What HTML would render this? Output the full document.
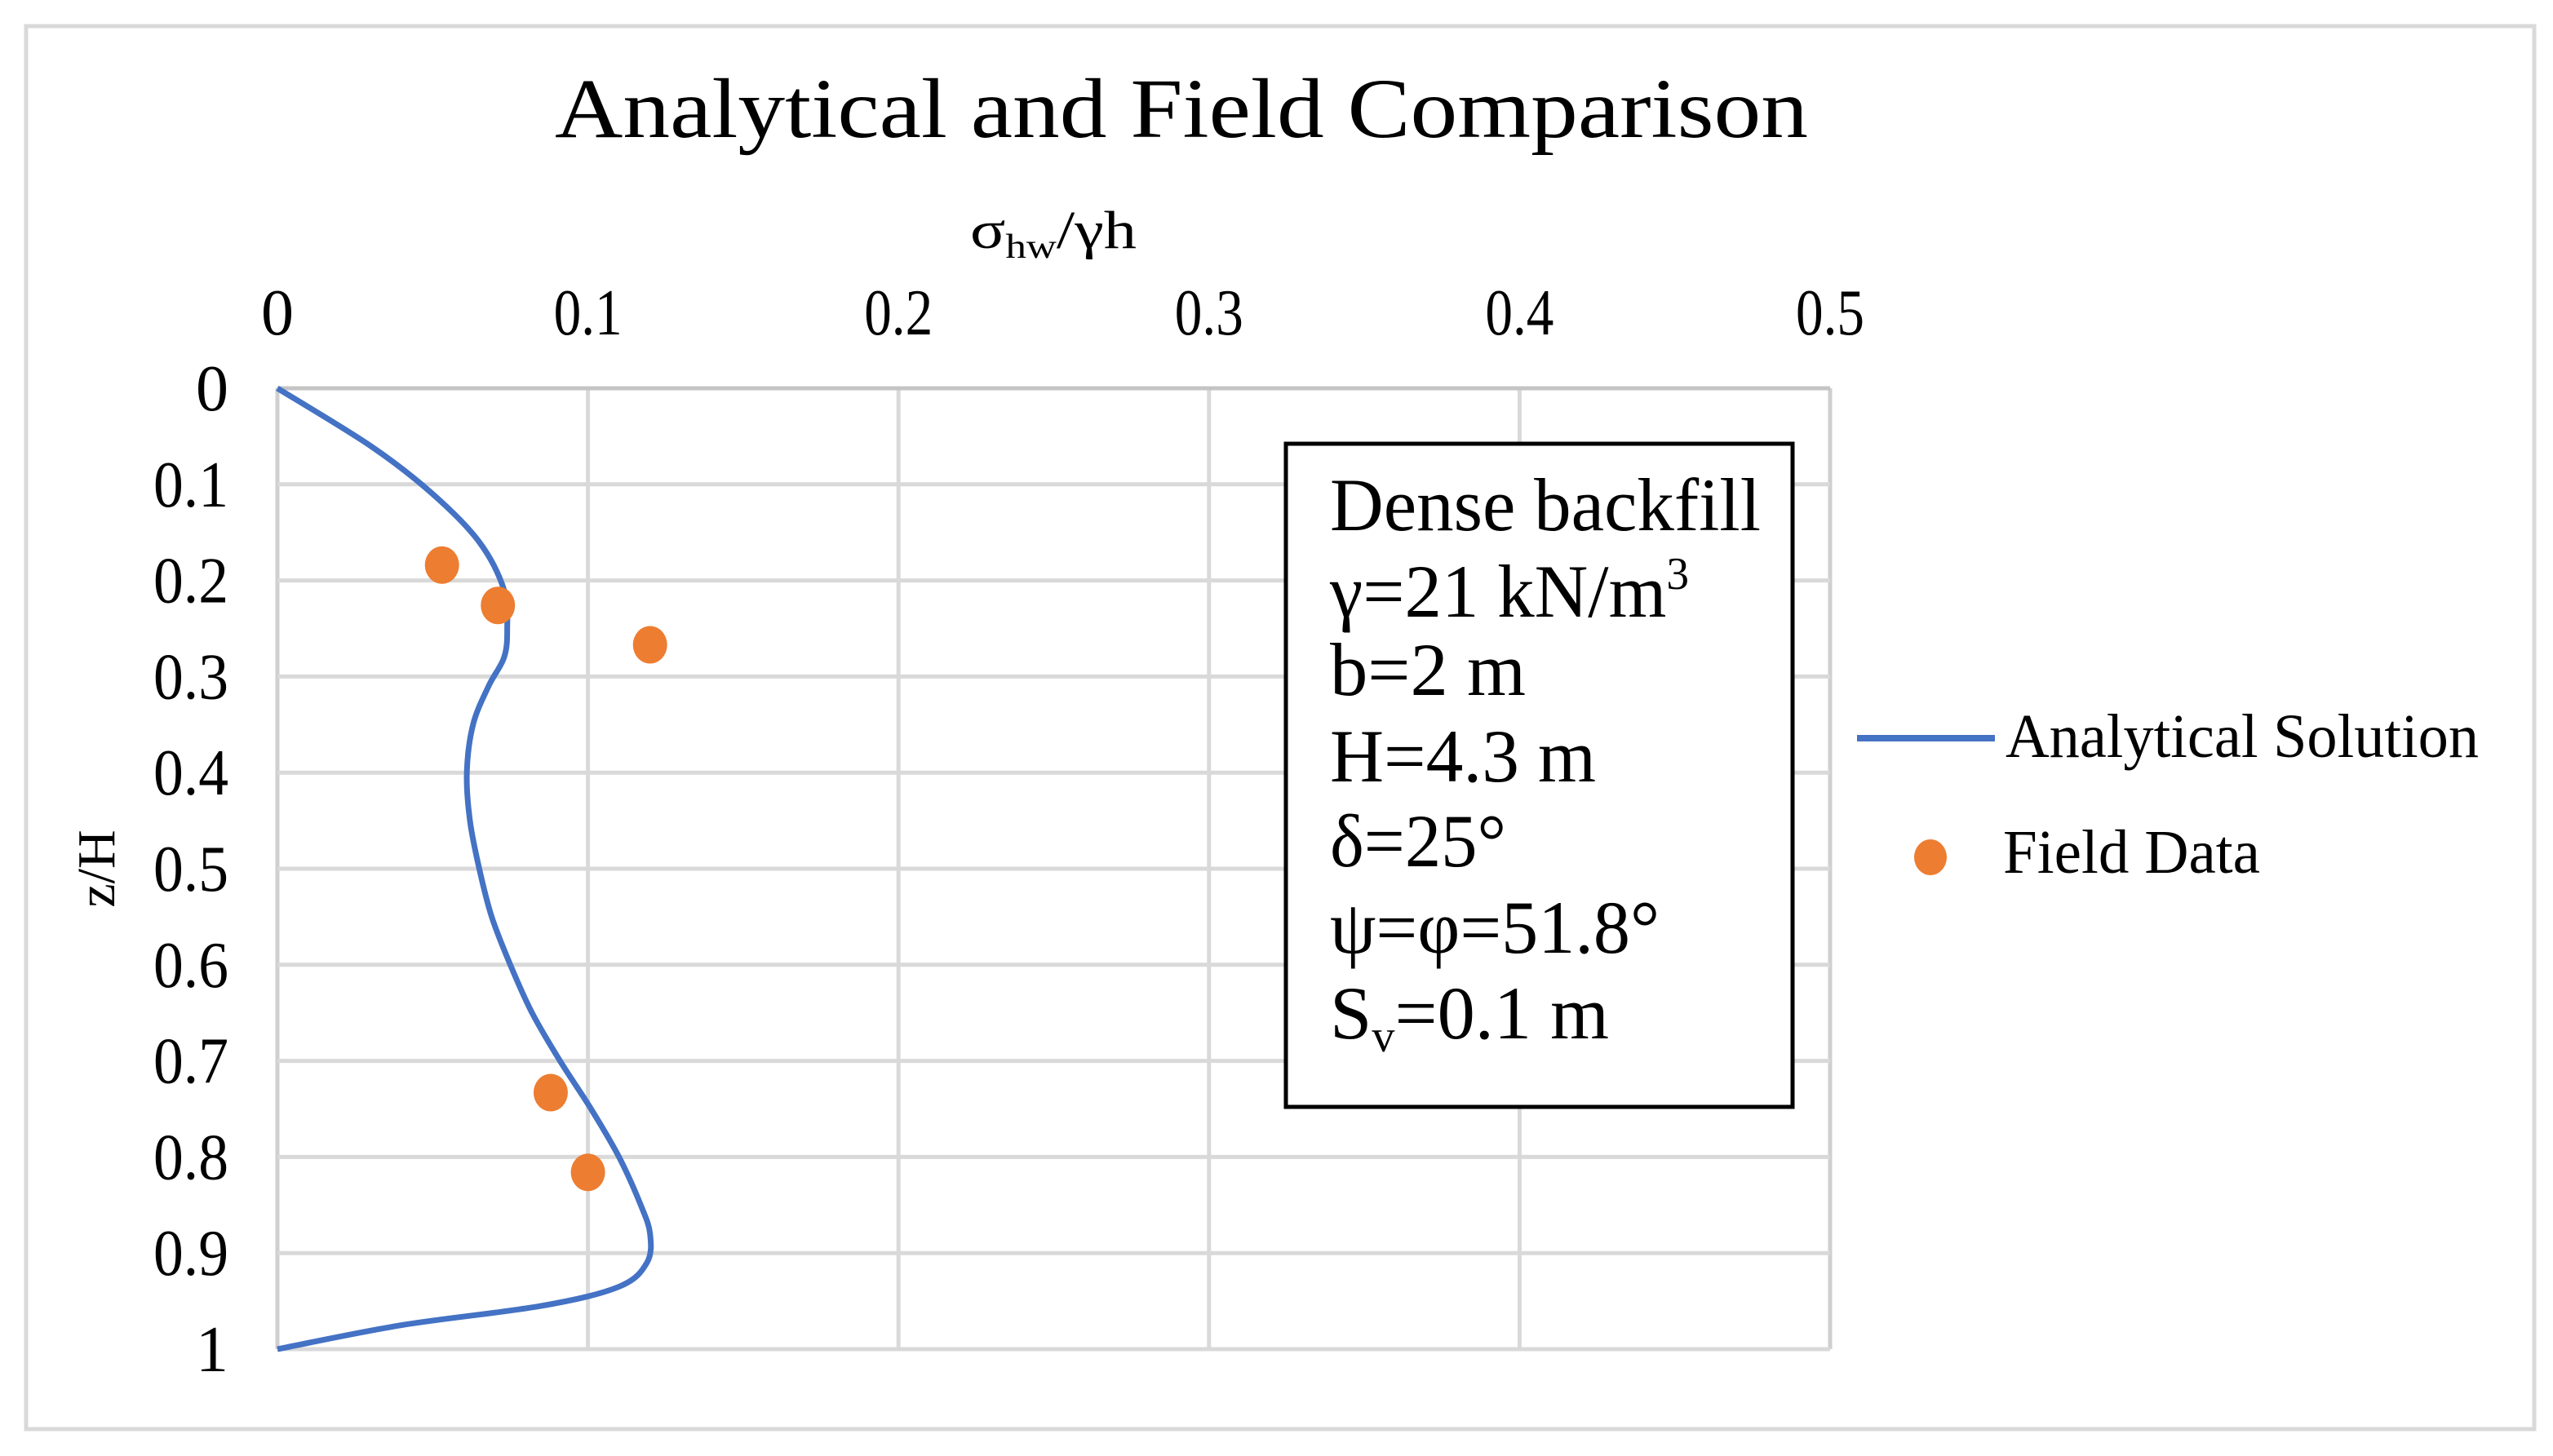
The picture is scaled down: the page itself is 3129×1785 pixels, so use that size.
<!DOCTYPE html>
<html><head><meta charset="utf-8"><style>
html,body{margin:0;padding:0;background:#fff;}
svg{display:block;}
text{font-family:"Liberation Serif",serif;fill:#000;}
</style></head><body>
<svg id="chart" width="3129" height="1785" viewBox="0 0 3129 1785">
<rect x="32" y="32" width="3074" height="1720" fill="#fff" stroke="#d9d9d9" stroke-width="5"/>
<text x="1448" y="168" font-size="104" text-anchor="middle" textLength="1536" lengthAdjust="spacingAndGlyphs">Analytical and Field Comparison</text>
<text x="1189" y="304" font-size="66" textLength="204" lengthAdjust="spacingAndGlyphs">σ<tspan font-size="42" dy="12">hw</tspan><tspan dy="-12">/γh</tspan></text>
<text transform="translate(140,1065) rotate(-90)" font-size="66" text-anchor="middle">z/H</text>
<g id="grid"></g>
<g id="xticks"></g>
<g id="yticks"></g>
<path id="curve" fill="none" stroke="#4472c4" stroke-width="7" stroke-linejoin="round"/>
<g id="points"></g>
<g>
<rect x="1576" y="544" width="621" height="813" fill="#fff" stroke="#000" stroke-width="5"/>
<text x="1630" y="650" font-size="92" textLength="528" lengthAdjust="spacingAndGlyphs">Dense backfill</text>
<text x="1630" y="756" font-size="92" textLength="440" lengthAdjust="spacingAndGlyphs">γ=21 kN/m<tspan font-size="56" dy="-34">3</tspan></text>
<text x="1630" y="852" font-size="92" textLength="240" lengthAdjust="spacingAndGlyphs">b=2 m</text>
<text x="1630" y="958" font-size="92" textLength="326" lengthAdjust="spacingAndGlyphs">H=4.3 m</text>
<text x="1630" y="1062" font-size="92" textLength="216" lengthAdjust="spacingAndGlyphs">δ=25°</text>
<text x="1630" y="1168" font-size="92" textLength="404" lengthAdjust="spacingAndGlyphs">ψ=φ=51.8°</text>
<text x="1630" y="1273" font-size="92" textLength="342" lengthAdjust="spacingAndGlyphs">S<tspan font-size="56" dy="16">v</tspan><tspan dy="-16">=0.1 m</tspan></text>
</g>
<g>
<line x1="2276" y1="905" x2="2445" y2="905" stroke="#4472c4" stroke-width="8"/>
<text x="2458" y="928" font-size="76" textLength="580" lengthAdjust="spacingAndGlyphs">Analytical Solution</text>
<ellipse cx="2366" cy="1051" rx="20" ry="22" fill="#ed7d31"/>
<text x="2455" y="1070" font-size="76" textLength="315" lengthAdjust="spacingAndGlyphs">Field Data</text>
</g>
</svg>
<script>
const xTicks = [0, 0.1, 0.2, 0.3, 0.4, 0.5];
const xTickLabels = ["0", "0.1", "0.2", "0.3", "0.4", "0.5"];
const yTicks = [0, 0.1, 0.2, 0.3, 0.4, 0.5, 0.6, 0.7, 0.8, 0.9, 1];
const yTickLabels = ["0", "0.1", "0.2", "0.3", "0.4", "0.5", "0.6", "0.7", "0.8", "0.9", "1"];
const curveX = [0, 0.03, 0.05, 0.065, 0.073, 0.074, 0.073, 0.068, 0.063, 0.061, 0.062, 0.065, 0.069, 0.075, 0.082, 0.091, 0.101, 0.11, 0.117, 0.12, 0.119, 0.11, 0.085, 0.04, 0];
const curveZ = [0, 0.06, 0.11, 0.16, 0.21, 0.25, 0.28, 0.31, 0.35, 0.40, 0.45, 0.5, 0.55, 0.6, 0.65, 0.7, 0.75, 0.8, 0.85, 0.88, 0.91, 0.935, 0.955, 0.975, 1.0];
const fieldX = [0.053, 0.071, 0.12, 0.088, 0.10];
const fieldZ = [0.184, 0.226, 0.267, 0.733, 0.816];

const NS = "http://www.w3.org/2000/svg";
const X0 = 340, X1 = 2243, Y0 = 476, Y1 = 1654;
function sx(v){ return X0 + (v - 0) / 0.5 * (X1 - X0); }
function sy(v){ return Y0 + v * (Y1 - Y0); }
function mk(tag, attrs, parent){ const e = document.createElementNS(NS, tag); for (const k in attrs) e.setAttribute(k, attrs[k]); parent.appendChild(e); return e; }

const grid = document.getElementById('grid');
xTicks.forEach((t, i) => {
  const l = mk('line', {x1: sx(t), x2: sx(t), y1: Y0, y2: Y1, stroke: (i === 0 || i === xTicks.length - 1) ? '#cfcfcf' : '#d9d9d9', 'stroke-width': 5}, grid);
  
  
  const tx = mk('text', {x: sx(t), y: 410, 'font-size': 80, 'text-anchor': 'middle'}, document.getElementById('xticks'));
  tx.textContent = xTickLabels[i];
  if (xTickLabels[i].length > 1) { tx.setAttribute('textLength', 84); tx.setAttribute('lengthAdjust', 'spacingAndGlyphs'); }
  
  
});
yTicks.forEach((t, i) => {
  const l = mk('line', {x1: X0, x2: X1, y1: sy(t), y2: sy(t), stroke: i === 0 ? '#c4c4c4' : '#d9d9d9', 'stroke-width': 5}, grid);
  
  
  const tx = mk('text', {x: 280, y: sy(t) + 27, 'font-size': 80, 'text-anchor': 'end'}, document.getElementById('yticks'));
  tx.textContent = yTickLabels[i];
  if (yTickLabels[i].length > 1) { tx.setAttribute('textLength', 92); tx.setAttribute('lengthAdjust', 'spacingAndGlyphs'); }
  
  
});

const pts = curveX.map((v, i) => [sx(v), sy(curveZ[i])]);
let d = 'M' + pts[0][0] + ',' + pts[0][1];
for (let i = 0; i < pts.length - 1; i++) {
  const p0 = pts[Math.max(i - 1, 0)], p1 = pts[i], p2 = pts[i + 1], p3 = pts[Math.min(i + 2, pts.length - 1)];
  const c1 = [p1[0] + (p2[0] - p0[0]) / 6, p1[1] + (p2[1] - p0[1]) / 6];
  const c2 = [p2[0] - (p3[0] - p1[0]) / 6, p2[1] - (p3[1] - p1[1]) / 6];
  d += ' C' + c1.join(',') + ' ' + c2.join(',') + ' ' + p2.join(',');
}
document.getElementById('curve').setAttribute('d', d);

const pg = document.getElementById('points');
fieldX.forEach((v, i) => {
  const c = mk('ellipse', {cx: sx(v), cy: sy(fieldZ[i]), rx: 21, ry: 23, fill: '#ed7d31'}, pg);
  
  
});
</script>
</body></html>
